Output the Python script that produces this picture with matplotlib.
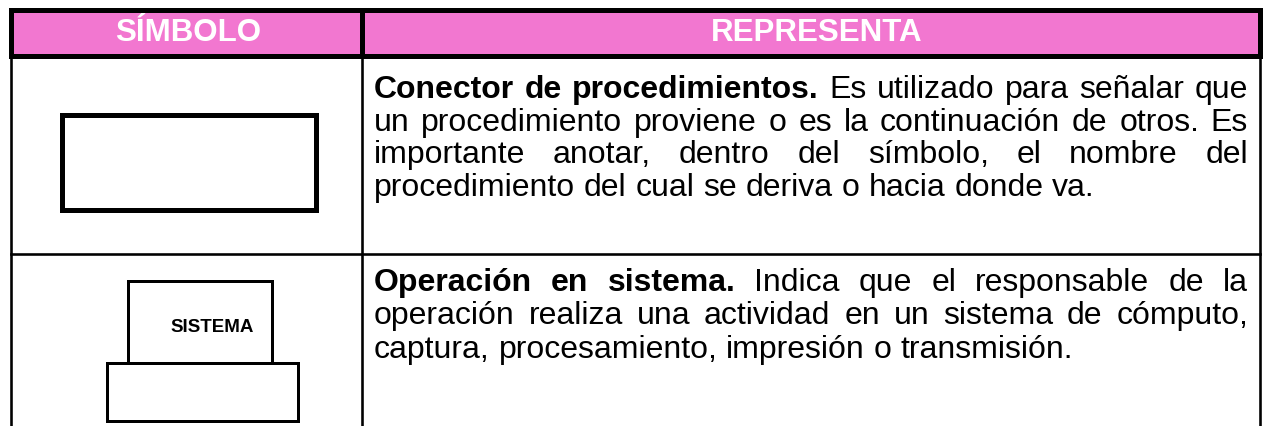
import matplotlib.pyplot as plt
from matplotlib.patches import Rectangle

# table content
headers = ["SÍMBOLO", "REPRESENTA"]
titles = ["Conector de procedimientos.", "Operación en sistema."]
desc_lines = [
    ["Conector de procedimientos. Es utilizado para señalar que",
     "un procedimiento proviene o es la continuación de otros. Es",
     "importante anotar, dentro del símbolo, el nombre del",
     "procedimiento del cual se deriva o hacia donde va."],
    ["Operación en sistema. Indica que el responsable de la",
     "operación realiza una actividad en un sistema de cómputo,",
     "captura, procesamiento, impresión o transmisión."],
]
symbol_label = "SISTEMA"

pink = "#F277D0"
font = "Liberation Sans"

W, H = 1264, 426
fig = plt.figure(figsize=(W / 100, H / 100), dpi=100)
ax = fig.add_axes([0, 0, 1, 1])
ax.set_xlim(0, W)
ax.set_ylim(H, 0)
ax.axis("off")

px = 0.72  # points per pixel at dpi 100

# grid geometry (pixels)
left, mid, right = 10.5, 362, 1259.5
top, head_bot, row_div = 9.5, 55.5, 253.5

# header
ax.add_patch(Rectangle((left, top), right - left, head_bot - top,
                       facecolor=pink, edgecolor="none", zorder=1))
thick = 5 * px
thin = 2.6 * px
ax.plot([left, right], [top, top], color="black", lw=thick, solid_capstyle="projecting", zorder=3)
ax.plot([left, right], [head_bot, head_bot], color="black", lw=thick, solid_capstyle="projecting", zorder=3)
for x in (left, mid, right):
    ax.plot([x, x], [top, head_bot], color="black", lw=thick, solid_capstyle="projecting", zorder=3)
    ax.plot([x, x], [head_bot, H + 5], color="black", lw=thin, zorder=2)
ax.plot([left, right], [row_div, row_div], color="black", lw=thin, zorder=2)

ax.text((left + mid) / 2 + 2, 33, headers[0], ha="center", va="center", color="white",
        fontsize=22.5, fontweight="bold", family=font, zorder=4)
ax.text((mid + right) / 2 + 6, 33, headers[1], ha="center", va="center", color="white",
        fontsize=22.5, fontweight="bold", family=font, zorder=4)

# symbols
ax.add_patch(Rectangle((62, 114.5), 254, 95, facecolor="white", edgecolor="black",
                       lw=5 * px, joinstyle="miter", zorder=3))
ax.add_patch(Rectangle((106.5, 363), 191, 58, facecolor="white", edgecolor="black",
                       lw=3 * px, joinstyle="miter", zorder=3))
ax.add_patch(Rectangle((128, 281), 144, 82, facecolor="white", edgecolor="black",
                       lw=3 * px, joinstyle="miter", zorder=3))
ax.text(212, 327, symbol_label, ha="center", va="center", fontsize=13.5,
        fontweight="bold", family=font, zorder=4)

# justified description text
renderer = fig.canvas.get_renderer()
fs = 23


def width(t):
    return t.get_window_extent(renderer).width


tmp1 = ax.text(0, 0, "a a", fontsize=fs, family=font)
tmp2 = ax.text(0, 0, "aa", fontsize=fs, family=font)
space = width(tmp1) - width(tmp2)
tmp1.remove()
tmp2.remove()

x0, x1 = 374, 1248
line_gap = [32.7, 33.3]
first_base = [98, 291]

for r, lines in enumerate(desc_lines):
    n_bold = len(titles[r].split())
    for i, line in enumerate(lines):
        y = first_base[r] + i * line_gap[r]
        words = line.split()
        objs = []
        for k, w in enumerate(words):
            bold = (i == 0 and k < n_bold)
            objs.append(ax.text(0, y, w, ha="left", va="baseline", fontsize=fs,
                                fontweight="bold" if bold else "normal",
                                family=font, zorder=4))
        widths = [width(o) for o in objs]
        if i < len(lines) - 1 and len(objs) > 1:
            gap = (x1 - x0 - sum(widths)) / (len(objs) - 1)
        else:
            gap = space
        x = x0
        for o, wd in zip(objs, widths):
            o.set_x(x)
            x += wd + gap

fig.savefig("out.png", dpi=100, facecolor="white")
